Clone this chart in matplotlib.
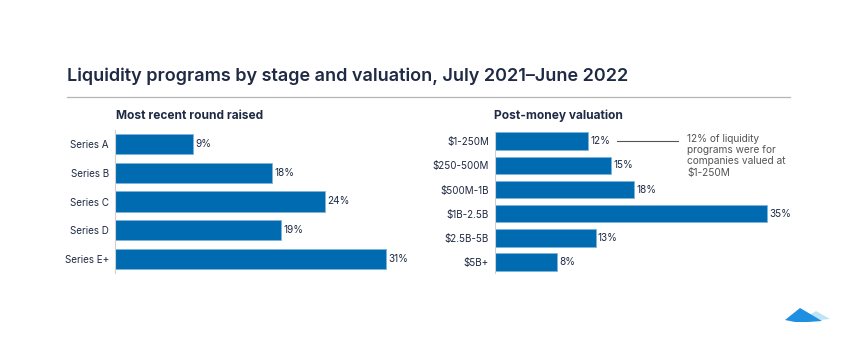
import matplotlib.pyplot as plt
from matplotlib.patches import Polygon
from matplotlib.lines import Line2D

plt.rcParams['font.family'] = ['Inter', 'DejaVu Sans']

stage_labels = ["Series A", "Series B", "Series C", "Series D", "Series E+"]
stage_values = [9, 18, 24, 19, 31]

val_labels = ["$1-250M", "$250-500M", "$500M-1B", "$1B-2.5B", "$2.5B-5B", "$5B+"]
val_values = [12, 15, 18, 35, 13, 8]

title = "Liquidity programs by stage and valuation, July 2021\u2013June 2022"
sub_left = "Most recent round raised"
sub_right = "Post-money valuation"
note = "12% of liquidity\nprograms were for\ncompanies valued at\n$1-250M"

W, H = 850, 340
BAR = "#006BB0"
EDGE = "#7FB5DA"
TXT = "#1F2A44"

fig = plt.figure(figsize=(8.5, 3.4), dpi=100)
fig.patch.set_facecolor("white")

def fx(px):
    return px / W

def fy(py):
    return 1 - py / H

def make_axes(x0, x1, y0, y1):
    return fig.add_axes([fx(x0), fy(y1), fx(x1 - x0), (y1 - y0) / H])

def style(ax, labels, values, xmax, ylim, height):
    y = list(range(len(labels)))
    ax.barh(y, values, height=height, color=BAR, edgecolor=EDGE, linewidth=0.6)
    ax.set_xlim(0, xmax)
    ax.set_ylim(*ylim)
    ax.set_yticks(y)
    ax.set_yticklabels(labels, fontsize=7.1, color=TXT)
    ax.tick_params(axis='y', length=0, pad=4)
    ax.set_xticks([])
    for s in ["top", "right", "bottom"]:
        ax.spines[s].set_visible(False)
    ax.spines["left"].set_color("#d0d0d0")
    ax.spines["left"].set_linewidth(0.8)
    for yi, v in zip(y, values):
        ax.text(v + xmax * 0.008, yi, f"{v}%", va="center", ha="left",
                fontsize=7.2, color=TXT)

# left panel
axL = make_axes(114.5, 412, 130, 273)
style(axL, stage_labels, stage_values, 34, (4.5, -0.5), 0.7)

# right panel
axR = make_axes(494.5, 800, 132, 273)
style(axR, val_labels, val_values, 39.3, (5.45, -0.38), 0.72)

# title and rule
fig.text(fx(67), fy(76), title, fontsize=13.0, fontweight="semibold",
         color=TXT, va="center", ha="left")
fig.add_artist(Line2D([fx(67), fx(790)], [fy(96.5), fy(96.5)],
                      color="#b5b5b5", linewidth=0.9))
fig.text(fx(116), fy(116), sub_left, fontsize=8.6, fontweight="bold",
         color=TXT, va="center", ha="left")
fig.text(fx(494), fy(116), sub_right, fontsize=8.6, fontweight="bold",
         color=TXT, va="center", ha="left")

# annotation
fig.add_artist(Line2D([fx(617), fx(678)], [fy(140.5), fy(140.5)],
                      color="#555555", linewidth=0.8))
fig.text(fx(687), fy(134), note, fontsize=7.3, color="#555555",
         va="top", ha="left", linespacing=1.15)

# logo
dark = [(785, 320), (800, 308), (812, 315), (822, 321), (808, 322), (795, 322)]
light = [(808, 316), (816, 311), (830, 319), (820, 320)]
fig.add_artist(Polygon([(fx(a), fy(b)) for a, b in light], closed=True,
                       transform=fig.transFigure, color="#BFE4F6", lw=0))
fig.add_artist(Polygon([(fx(a), fy(b)) for a, b in dark], closed=True,
                       transform=fig.transFigure, color="#1E8FE1", lw=0))

fig.savefig("out.png", dpi=100, facecolor="white")
